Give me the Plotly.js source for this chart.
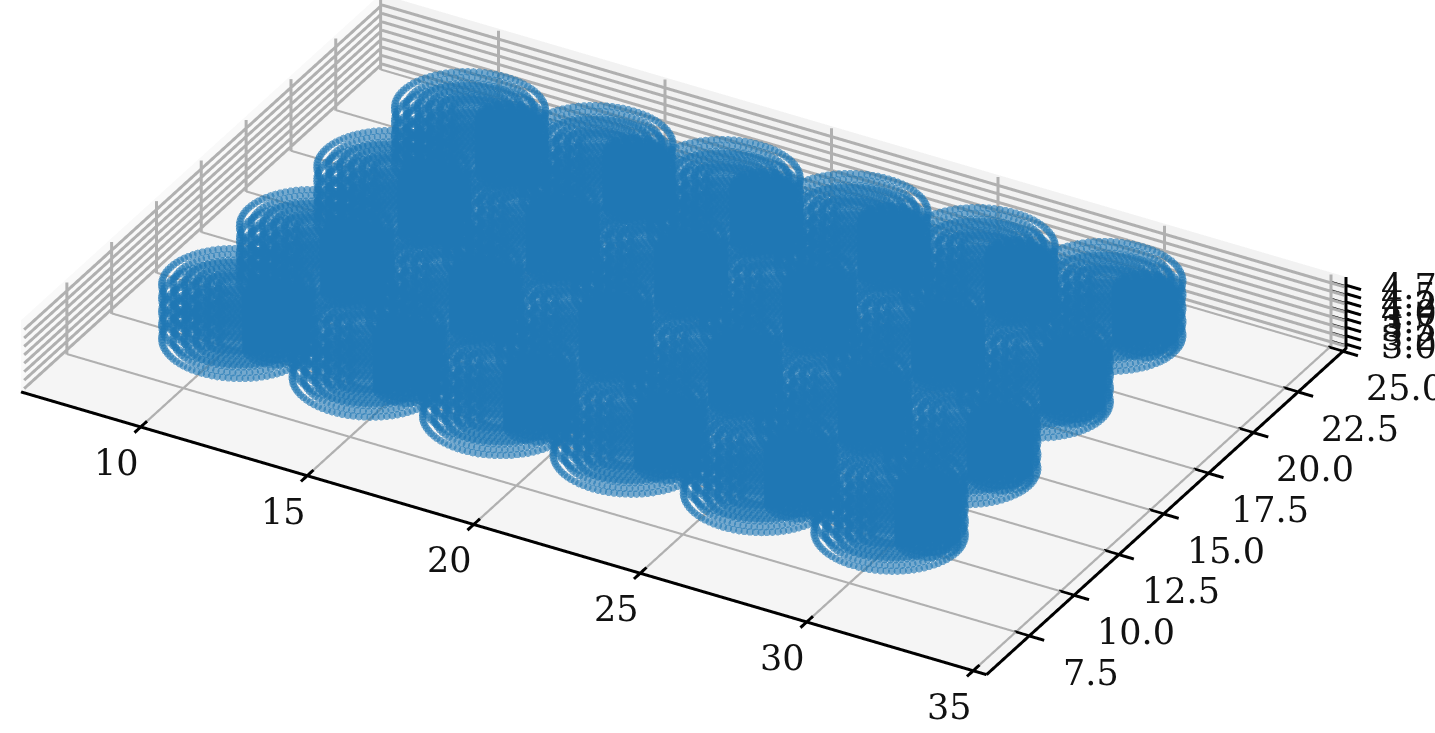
<!DOCTYPE html>
<html><head><meta charset="utf-8"><script src="https://cdn.plot.ly/plotly-3.0.1.min.js"></script>
<style>html,body{margin:0;background:#fff;overflow:hidden;width:1435px;height:733px}#p{position:absolute;left:0;top:0}</style></head>
<body><div id="p"></div>
<script>
// Tick values and labels
const xTicks=[10,15,20,25,30,35];
const yTicks=[7.5,10,12.5,15,17.5,20,22.5,25];
const zTicks=[3,3.25,3.5,3.75,4,4.25,4.5,4.75];
const xLabels=['10','15','20','25','30','35'];
const yLabels=['7.5','10.0','12.5','15.0','17.5','20.0','22.5','25.0'];
const zLabels=['3.00','3.25','3.50','3.75','4.00','4.25','4.50','4.75'];
// Cylinder centres, one row per y position
const centerX=[[10.13,14.06,17.98,21.91,25.83,29.76],[10.42,14.28,18.15,22.01,25.88,29.74],[10.70,14.50,18.31,22.11,25.92,29.72],[10.99,14.73,18.47,22.22,25.96,29.70]];
const centerY=[[10.26,10.24,10.23,10.21,10.20,10.18],[14.06,14.10,14.14,14.18,14.22,14.26],[17.86,17.96,18.05,18.15,18.25,18.35],[21.65,21.81,21.96,22.12,22.27,22.43]];
// Ring structure of every cylinder
const zLevels=[3,3.4,3.8,4.2,4.6];
const ringRadii=[2.0,1.7,1.4,1.1,0.8,0.5];
const coreOffset=[1.1,0.1];
const coreRadii=[0.25,0.55,0.8];
const coreLevels=[3,3.15,3.3,3.45,3.6,3.75,3.9,4.05,4.2,4.35,4.5,4.6];
const pointSpacing=0.15;

const W=1435,H=733;
const xa=6.4039,xb=35.3999,ya=5.1184,yb=25.1745,za=2.85,zb=5.0;
const F=3.03,ary=0.6554,arz=0.07615,dX=1,dY=0.8;
const xs=[],ys=[],zs=[];
function ring(c,d,r,z){const n=Math.round(2*Math.PI*r/pointSpacing);for(let i=0;i<n;i++){const t=2*Math.PI*i/n;xs.push(c+r*Math.cos(t));ys.push(d+r*Math.sin(t));zs.push(z);}}
centerX.forEach((row,j)=>row.forEach((c,i)=>{const d=centerY[j][i];
 for(const z of zLevels)for(const r of ringRadii)ring(c,d,r,z);
 for(const z of coreLevels)for(const r of coreRadii)ring(c+coreOffset[0],d+coreOffset[1],r,z);}));
function seg(l,x0,y0,z0,x1,y1,z1){l.x.push(x0,x1,null);l.y.push(y0,y1,null);l.z.push(z0,z1,null);}
const grid={x:[],y:[],z:[]},blk={x:[],y:[],z:[]};
const e=.012,gy=yb-e*8,gx=xa+e*8,gz=za+e,ze=za+e*2;
for(const t of xTicks){seg(grid,t,ya,gz,t,gy,gz);seg(grid,t,gy,gz,t,gy,zb);}
for(const t of yTicks){seg(grid,gx,t,gz,xb,t,gz);seg(grid,gx,t,gz,gx,t,zb);}
for(const t of zTicks){seg(grid,gx,gy,t,xb,gy,t);seg(grid,gx,ya,t,gx,gy,t);}
const dxT=0.45,dyT=0.35;
seg(blk,xa,ya,ze,xb,ya,ze);seg(blk,xb,ya,ze,xb,yb,ze);seg(blk,xb,yb,za,xb,yb,zb);
for(const t of xTicks)seg(blk,t,ya-dyT,ze,t,ya+dyT,ze);
for(const t of yTicks)seg(blk,xb-dxT,t,ze,xb+dxT,t,ze);
for(const t of zTicks)seg(blk,xb-dxT,yb,t,xb+dxT,yb,t);
const mesh=(x,y,z,col)=>({type:'mesh3d',x,y,z,i:[0,0],j:[1,2],k:[2,3],color:col,opacity:1,flatshading:true,lighting:{ambient:1,diffuse:0,specular:0,fresnel:0,roughness:1},hoverinfo:'skip',showscale:false});
const line=(l,col,w)=>({type:'scatter3d',mode:'lines',x:l.x,y:l.y,z:l.z,line:{color:col,width:w},hoverinfo:'skip'});
const traces=[
 mesh([xa,xb,xb,xa],[ya,ya,yb,yb],[za,za,za,za],'#f5f5f5'),
 mesh([xa,xb,xb,xa],[yb,yb,yb,yb],[za,za,zb,zb],'#f2f2f2'),
 mesh([xa,xa,xa,xa],[ya,yb,yb,ya],[za,za,zb,zb],'#f9f9f9'),
 line(grid,'#b0b0b0',6),line(blk,'#000',6),
 {type:'scatter3d',mode:'markers',x:xs,y:ys,z:zs,marker:{size:4.4,color:'#1f77b4',opacity:0.6,line:{width:0}},hoverinfo:'skip'}
];
const font={family:'DejaVu Serif',size:35,color:'#111'},ann=[];
xTicks.forEach((t,i)=>ann.push({x:t,y:ya,z:za,text:xLabels[i],showarrow:false,xshift:-24,yshift:-35,font,xanchor:'center',yanchor:'middle'}));
yTicks.forEach((t,i)=>ann.push({x:xb,y:t,z:za,text:yLabels[i],showarrow:false,xshift:62,yshift:-36,font,xanchor:'center',yanchor:'middle'}));
zTicks.forEach((t,i)=>ann.push({x:xb,y:yb,z:t,text:zLabels[i],showarrow:false,xshift:74,yshift:-2,font,xanchor:'center',yanchor:'middle'}));
const hid=r=>({range:r,visible:false,showbackground:false,showgrid:false,zeroline:false,showspikes:false,title:{text:''}});
Plotly.newPlot('p',traces,{width:W,height:H,margin:{l:0,r:0,t:0,b:0,pad:0},paper_bgcolor:'#fff',showlegend:false,
 scene:{domain:{x:[0,1],y:[0,1]},aspectmode:'manual',
  aspectratio:{x:F*(xb-xa+2*dX)/(xb-xa),y:F*ary*(yb-ya+2*dY)/(yb-ya),z:F*arz},
  camera:{projection:{type:'orthographic'},eye:{x:2.5066,y:-4.2243,z:2.853},center:{x:0.1636,y:-0.1003,z:0},up:{x:0,y:0,z:1}},
  xaxis:hid([xa-dX,xb+dX]),yaxis:hid([ya-dY,yb+dY]),zaxis:hid([za,zb]),annotations:ann}
},{displayModeBar:false});
</script></body></html>
